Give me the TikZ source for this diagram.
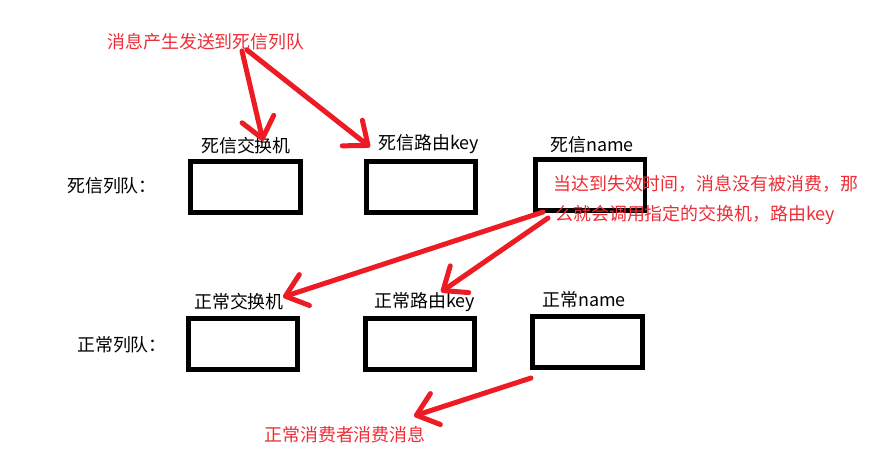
\documentclass[tikz,border=0pt]{standalone}
\usepackage{fontspec}
\usetikzlibrary{arrows.meta, positioning}
\newfontfamily\cjkfont{Noto Sans CJK SC}
\definecolor{pathred}{HTML}{ED1C24}
\definecolor{notered}{HTML}{EE2D36}

\begin{document}
\begin{tikzpicture}[x=0.02cm, y=-0.02cm,
    queuebox/.style={draw=black, line width=0.1cm, minimum width=2.2cm, minimum height=1.02cm, inner sep=0pt},
    lbl/.style={font=\cjkfont\fontsize{10.2pt}{12pt}\selectfont, inner sep=0pt},
    note/.style={lbl, text=notered},
    flow/.style={draw=pathred, line width=0.1cm, line cap=round,
      -{Straight Barb[length=4mm, width=6.5mm, round]}}]
    \useasboundingbox (0,0) rectangle (885,464);

    % 死信列队
    \node[queuebox] (dlxbox) at (245.5,187) {};
    \node[queuebox] (dlkbox) at (421,186.5) {};
    \node[queuebox] (dlnbox) at (590,185) {};
    \node[lbl] (dlx) at (246,146) {死信交换机};
    \node[lbl] (dlk) at (429,144) {死信路由key};
    \node[lbl] (dln) at (592,145) {死信name};
    \node[lbl] (dlq) at (112,186) {死信列队：};

    % 正常列队
    \node[queuebox] (nxbox) at (243,343.5) {};
    \node[queuebox] (nkbox) at (420,344) {};
    \node[queuebox] (nnbox) at (587.5,341.5) {};
    \node[lbl] (nx) at (239,302) {正常交换机};
    \node[lbl] (nk) at (425,302) {正常路由key};
    \node[lbl] (nn) at (584,300) {正常name};
    \node[lbl] (nq) at (122,345) {正常列队：};

    % notes
    \node[note] (send) at (206,42) {消息产生发送到死信列队};
    \node[note, anchor=west] (expa) at (553,184) {当达到失效时间，消息没有被消费，那};
    \node[note, anchor=west] (expb) at (555,215) {么就会调用指定的交换机，路由key};
    \node[note] (cons) at (345,435) {正常消费者消费消息};

    \coordinate (sendA) at (242,51);
    \coordinate (sendB) at (247,50);
    \coordinate (tipA) at (263,141);
    \coordinate (tipB) at (370,147);
    \coordinate (expA) at (543,212);
    \coordinate (expB) at (548,218);
    \coordinate (tipC) at (283,297);
    \coordinate (tipD) at (441,292);
    \coordinate (consA) at (531,378);
    \coordinate (tipE) at (414,416);

    \draw[flow] (sendA) -- (tipA);
    \draw[flow] (sendB) -- (tipB);
    \draw[flow] (expA) -- (tipC);
    \draw[flow] (expB) -- (tipD);
    \draw[flow] (consA) -- (tipE);
\end{tikzpicture}
\end{document}
